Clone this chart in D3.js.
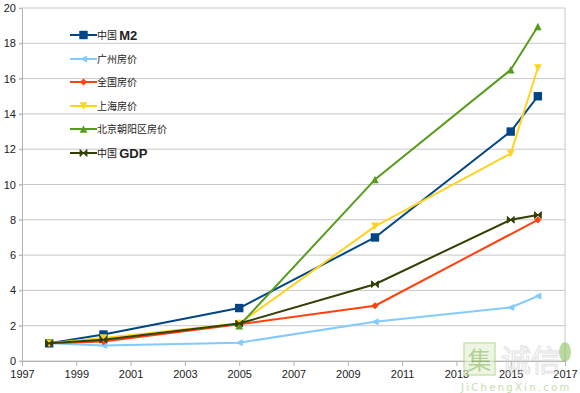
<!DOCTYPE html>
<html>
<head>
<meta charset="utf-8">
<script src="https://cdn.jsdelivr.net/npm/d3@7"></script>
<style>
  body { margin: 0; background: #fff; }
  svg { display: block; font-family: "Liberation Sans", Arial, sans-serif; }
  .tick text { font-size: 11px; fill: #222; }
</style>
</head>
<body>
<div id="wrapper"></div>
<script>
// data
const years = [1998, 2000, 2005, 2010, 2015, 2016]
const m2        = [1, 1.5, 3, 7, 13, 15]
const guangzhou = [1, 0.88, 1.04, 2.22, 3.03, 3.68]
const national  = [1, 1.1, 2.08, 3.13, null, 8.0]
const shanghai  = [1, 1.3, 2.12, 7.63, 11.75, 16.6]
const chaoyang  = [null, null, 2.0, 10.28, 16.5, 18.95]
const gdp       = [1, 1.2, 2.12, 4.35, 8.0, 8.27]
const xTicks = d3.range(1997, 2018, 2)
const yTicks = d3.range(0, 21, 2)

const seriesList = [
  {name: "中国 ", bold: "M2", values: m2, color: "#004586", symbol: "square"},
  {name: "广州房价", values: guangzhou, color: "#83caff", symbol: "triLeft"},
  {name: "全国房价", values: national, color: "#ff420e", symbol: "diamond"},
  {name: "上海房价", values: shanghai, color: "#ffd320", symbol: "triDown"},
  {name: "北京朝阳区房价", values: chaoyang, color: "#579d1c", symbol: "triUp"},
  {name: "中国 ", bold: "GDP", values: gdp, color: "#314004", symbol: "bowtie"},
]

const dimensions = {
  width: 580,
  height: 393,
  margin: {top: 8, right: 15, bottom: 32, left: 22},
}
dimensions.boundedWidth = dimensions.width - dimensions.margin.left - dimensions.margin.right
dimensions.boundedHeight = dimensions.height - dimensions.margin.top - dimensions.margin.bottom

const svg = d3.select("#wrapper").append("svg")
    .attr("width", dimensions.width)
    .attr("height", dimensions.height)

const bounds = svg.append("g")
    .attr("transform", `translate(${dimensions.margin.left},${dimensions.margin.top})`)

const xScale = d3.scaleLinear()
  .domain([1997, 2017])
  .range([0, dimensions.boundedWidth])

const yScale = d3.scaleLinear()
  .domain([0, 20])
  .range([dimensions.boundedHeight, 0])

// gridlines
bounds.append("g")
  .selectAll("line")
  .data(yTicks)
  .join("line")
    .attr("x1", -3)
    .attr("x2", dimensions.boundedWidth)
    .attr("y1", d => yScale(d))
    .attr("y2", d => yScale(d))
    .attr("stroke", "#c8c8c8")
    .attr("stroke-width", 1)

// right border
bounds.append("line")
    .attr("x1", dimensions.boundedWidth).attr("x2", dimensions.boundedWidth)
    .attr("y1", 0).attr("y2", dimensions.boundedHeight)
    .attr("stroke", "#c8c8c8")

// axes
const xAxis = bounds.append("g")
    .attr("transform", `translate(0,${dimensions.boundedHeight})`)
    .call(d3.axisBottom(xScale).tickValues(xTicks).tickFormat(d3.format("d")).tickSizeOuter(0).tickSize(5).tickPadding(4))
xAxis.select(".domain").attr("stroke", "#b3b3b3")
xAxis.selectAll(".tick line").attr("stroke", "#b3b3b3")

const yAxis = bounds.append("g")
    .call(d3.axisLeft(yScale).tickValues(yTicks).tickSize(3).tickSizeOuter(0).tickPadding(3))
yAxis.select(".domain").attr("stroke", "#b3b3b3")
yAxis.selectAll(".tick line").attr("stroke", "#b3b3b3")

// marker shapes
function symbolPath(type, s) {
  switch (type) {
    case "square": return `M${-s},${-s}H${s}V${s}H${-s}Z`
    case "diamond": return `M0,${-s}L${s},0L0,${s}L${-s},0Z`
    case "triLeft": return `M${-s},0L${s},${-s}L${s},${s}Z`
    case "triDown": return `M${-s},${-s}L${s},${-s}L0,${s}Z`
    case "triUp": return `M${-s},${s}L${s},${s}L0,${-s}Z`
    case "bowtie": return `M${-s},${-s}L0,0L${-s},${s}ZM${s},${-s}L0,0L${s},${s}Z`
  }
}
const symbolSize = {square: 4.2, diamond: 3.6, triLeft: 3.6, triDown: 3.8, triUp: 3.8, bowtie: 3.4}

const lineGenerator = d3.line()
  .defined(d => d.v !== null)
  .x(d => xScale(d.year))
  .y(d => yScale(d.v))

seriesList.forEach(s => {
  const pts = years.map((year, i) => ({year, v: s.values[i]}))
  const valid = pts.filter(d => d.v !== null)
  const g = bounds.append("g")
  g.append("path")
      .datum(valid)
      .attr("d", lineGenerator)
      .attr("fill", "none")
      .attr("stroke", s.color)
      .attr("stroke-width", 2)
      .attr("stroke-linejoin", "round")
  g.selectAll("path.mark")
    .data(valid)
    .join("path")
      .attr("class", "mark")
      .attr("transform", d => `translate(${xScale(d.year)},${yScale(d.v)})`)
      .attr("d", symbolPath(s.symbol, symbolSize[s.symbol]))
      .attr("fill", s.color)
      .attr("stroke", s.color)
      .attr("stroke-width", s.symbol === "bowtie" ? 1 : 0)
})

// legend
const legend = svg.append("g")
const rowY = [35, 59, 82, 106, 129, 153]
seriesList.forEach((s, i) => {
  const row = legend.append("g").attr("transform", `translate(70,${rowY[i]})`)
  row.append("line")
      .attr("x1", 0).attr("x2", 27)
      .attr("stroke", s.color).attr("stroke-width", 2)
  row.append("path")
      .attr("transform", "translate(13.5,0)")
      .attr("d", symbolPath(s.symbol, symbolSize[s.symbol]))
      .attr("fill", s.color)
      .attr("stroke", s.color)
      .attr("stroke-width", s.symbol === "bowtie" ? 1 : 0)
  const t = row.append("text")
      .attr("x", 27)
      .attr("y", 4)
      .attr("font-family", "'Noto Sans CJK SC', sans-serif")
      .attr("font-size", 10)
      .attr("fill", "#222")
  t.append("tspan").text(s.name)
  if (s.bold) {
    t.append("tspan")
        .attr("font-family", "'Liberation Sans', Arial, sans-serif")
        .attr("font-weight", "bold")
        .attr("font-size", 13)
        .attr("dy", 1)
        .text(s.bold)
  }
})

// watermark
const wm = svg.append("g").attr("opacity", 0.6)
wm.append("rect")
    .attr("x", 464).attr("y", 343).attr("width", 31).attr("height", 32)
    .attr("fill", "#e3f1d2").attr("stroke", "#a6d27c").attr("stroke-width", 1.5)
wm.append("text")
    .attr("x", 479.5).attr("y", 369)
    .attr("text-anchor", "middle")
    .attr("font-family", "'Noto Sans CJK SC', sans-serif")
    .attr("font-size", 24).attr("fill", "#7fb44f")
    .text("集")
wm.append("text")
    .attr("x", 501).attr("y", 371)
    .attr("font-family", "'Noto Sans CJK SC', sans-serif")
    .attr("font-size", 30).attr("fill", "none")
    .attr("stroke", "#cfcfcf").attr("stroke-width", 1)
    .text("诚信")
wm.append("ellipse")
    .attr("cx", 565).attr("cy", 352).attr("rx", 6).attr("ry", 10)
    .attr("fill", "#8cc460")
wm.append("text")
    .attr("x", 461).attr("y", 391)
    .attr("font-family", "'DejaVu Sans', sans-serif")
    .attr("font-size", 10).attr("letter-spacing", 2.3)
    .attr("fill", "#9ccc72")
    .text("JiChengXin.com")
</script>
</body>
</html>
